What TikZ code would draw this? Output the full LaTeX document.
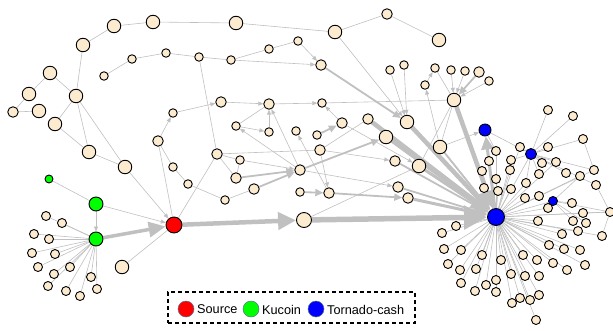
\documentclass[tikz,border=0pt]{standalone}
\usepackage{fontspec}
\setmainfont{Liberation Sans}
\usetikzlibrary{arrows.meta, backgrounds}
\definecolor{cream}{RGB}{253,235,208}
\definecolor{edgegray}{RGB}{192,192,192}
\definecolor{srcred}{RGB}{255,0,0}
\definecolor{kugreen}{RGB}{0,255,0}
\definecolor{tcblue}{RGB}{0,0,255}
\definecolor{rimgray}{RGB}{90,110,140}
\tikzstyle{wallet} = [circle, draw=black, line width=0.9pt, fill=cream, inner sep=0pt, minimum size=8.5pt]
\tikzstyle{walletm} = [wallet, minimum size=10.5pt]
\tikzstyle{walletl} = [wallet, minimum size=13.5pt]
\tikzstyle{source} = [wallet, fill=srcred, minimum size=16pt]
\tikzstyle{kucoin} = [wallet, fill=kugreen, minimum size=14pt]
\tikzstyle{tornado} = [wallet, fill=tcblue, minimum size=12pt]
\tikzstyle{link} = [draw=edgegray, line width=0.6pt]
\tikzstyle{flow} = [link, -{Triangle[length=5pt,width=4pt]}]
\tikzstyle{flowb} = [draw=edgegray, line width=1.8pt, -{Triangle[length=8pt,width=7pt]}]
\tikzstyle{flowc} = [draw=edgegray, line width=3pt, -{Triangle[length=13pt,width=12pt]}]
\tikzstyle{flowd} = [draw=edgegray, line width=4.5pt, -{Triangle[length=18pt,width=17pt]}]
\tikzstyle{flowe} = [draw=edgegray, line width=5.5pt, -{Triangle[length=23pt,width=23pt]}]
\tikzstyle{legendkey} = [circle, draw=rimgray, line width=0.5pt, minimum size=16pt, inner sep=0pt]
\tikzstyle{legendtext} = [anchor=west, inner sep=0pt, font=\fontsize{12.7}{14}\selectfont]

\begin{document}
\begin{tikzpicture}[x=1pt, y=-1pt]
    \useasboundingbox (0,0) rectangle (613,330);

    % outer arc
    \node (t1) [walletl] at (83,45) {};
    \node (t2) [walletl] at (114,26) {};
    \node (t3) [walletl] at (153,22) {};
    \node (t4) [walletl] at (236,23) {};
    \node (t5) [walletl] at (335,32) {};
    \node (t6) [walletm] at (387,14) {};
    \node (t7) [walletl] at (439,40) {};
    \node (l1) [walletl] at (76,96) {};
    \node (l2) [walletl] at (50,73) {};
    \node (l3) [walletl] at (29,94) {};
    \node (l4) [walletm] at (13,112) {};
    \node (l5) [walletl] at (39,111) {};
    \node (l6) [walletl] at (55,124) {};
    \node (l7) [walletl] at (89,152) {};
    \node (l8) [walletl] at (125,167) {};

    % inner arc
    \node (s1) [wallet] at (104,76) {};
    \node (s2) [wallet] at (132,59) {};
    \node (s3) [wallet] at (166,53) {};
    \node (s4) [wallet] at (199,57) {};
    \node (s5) [wallet] at (231,60) {};
    \node (s6) [wallet] at (269,49) {};
    \node (s7) [wallet] at (298,41) {};
    \node (s8) [walletm] at (321,65) {};

    % middle
    \node (m1) [wallet] at (173,113) {};
    \node (m2) [walletm] at (221,102) {};
    \node (m3) [walletm] at (269,104) {};
    \node (m4) [wallet] at (322,103) {};
    \node (m5) [wallet] at (236,126) {};
    \node (m6) [wallet] at (269,132) {};
    \node (m7) [wallet] at (296,131) {};
    \node (m8) [wallet] at (317,135) {};
    \node (m9) [walletm] at (342,123) {};
    \node (m10) [walletm] at (158,141) {};
    \node (m11) [walletm] at (217,154) {};
    \node (m12) [wallet] at (240,160) {};
    \node (m13) [walletm] at (320,150) {};
    \node (m14) [walletm] at (300,170) {};
    \node (m15) [wallet] at (173,167) {};
    \node (m16) [wallet] at (188,184) {};
    \node (m17) [walletm] at (236,178) {};
    \node (m18) [walletm] at (254,189) {};
    \node (m19) [wallet] at (225,200) {};
    \node (m20) [wallet] at (300,192) {};
    \node (m21) [walletm] at (329,193) {};
    \node (m22) [walletl, minimum size=15pt] at (304,220) {};
    \node (w1) [walletl] at (122,267) {};

    % upper right
    \node (u1) [walletm] at (368,119) {};
    \node (u2) [walletl] at (407,122) {};
    \node (u3) [walletl] at (386,137) {};
    \node (u4) [walletl] at (440,147) {};
    \node (u5) [walletm] at (395,161) {};
    \node (u6) [walletl] at (419,166) {};
    \node (u7) [walletm] at (398,187) {};
    \node (u8) [walletm] at (408,198) {};
    \node (u9) [walletl] at (454,100) {};
    \node (u10) [wallet] at (390,70) {};
    \node (u11) [wallet] at (404,65) {};
    \node (u12) [wallet] at (425,85) {};
    \node (u13) [wallet] at (435,68) {};
    \node (u14) [wallet] at (451,70) {};
    \node (u15) [wallet] at (465,71) {};
    \node (u16) [walletm] at (479,72) {};
    \node (u17) [wallet] at (489,81) {};

    % labelled wallets
    \node (red) [source] at (174,225) {};
    \node (g0) [kucoin, minimum size=8pt] at (49,179) {};
    \node (g1) [kucoin] at (96,204) {};
    \node (g2) [kucoin] at (96,239) {};
    \node (b0) [tornado, minimum size=17pt] at (496,217) {};
    \node (b1) [tornado] at (485,130) {};
    \node (b2) [tornado, minimum size=11pt] at (531,154) {};
    \node (b3) [tornado, minimum size=9pt] at (553,201) {};

    % kucoin fan
    \foreach \x/\y [count=\i] in {46/216, 62/223, 34/234, 49/239, 32/253, 55/254, 38/267, 70/267,
        54/274, 91/277, 48/286, 66/291, 97/289, 80/296}
        \node (k\i) [wallet, minimum size=9pt] at (\x,\y) {};

    % tornado fan
    \foreach \x/\y [count=\i] in {548/110, 573/116, 583/139, 520/147, 548/147, 496/151, 489/161, 511/160,
        542/163, 556/162, 594/170, 482/171, 510/170, 539/174, 566/173, 580/176, 596/185, 496/179,
        526/183, 484/188, 498/191, 511/189, 525/198, 539/196, 548/208, 572/203, 610/212, 583/213,
        538/221, 573/221, 586/223, 578/231, 562/234, 602/236, 456/226, 442/233, 444/249, 461/250,
        549/245, 564/249, 580/250, 482/255, 523/255, 448/264, 460/270, 476/269, 501/260, 537/260,
        553/263, 585/265, 567/270, 511/274, 525/276, 539/276, 461/283, 475/291, 486/285, 496/280,
        496/292, 520/298, 530/300, 539/295, 512/303, 536/320}
        \node (r\i) [wallet, minimum size=9pt] at (\x,\y) {};

    \begin{scope}[on background layer]
    \draw [link] (t1) -- (t2);
    \draw [link] (t2) -- (t3);
    \draw [link] (t3) -- (t4);
    \draw [link] (t4) -- (t5);
    \draw [link] (t5) -- (t6);
    \draw [link] (t6) -- (t7);
    \draw [link] (t1) -- (l1);
    \draw [link] (l1) -- (l2);
    \draw [link] (l2) -- (l3);
    \draw [link] (l3) -- (l4);
    \draw [link] (l4) -- (l5);
    \draw [link] (l1) -- (l6);
    \draw [link] (l6) -- (l7);
    \draw [link] (l1) -- (l7);
    \draw [link] (l1) -- (l8);
    \draw [link] (l7) -- (l8);
    \draw [flow] (l8) -- (red);
    \draw [flow] (t5) -- (u2);

    \draw [link] (s1) -- (s2);
    \draw [link] (s2) -- (s3);
    \draw [link] (s3) -- (s4);
    \draw [link] (s4) -- (s5);
    \draw [link] (s5) -- (s6);
    \draw [link] (s6) -- (s7);
    \draw [flow] (s5) -- (s8);
    \draw [flow] (s7) -- (s8);
    \draw [link] (s4) -- (m11);
    \draw [flowb] (s8) -- (u2);

    \draw [flow] (m10) -- (m1);
    \draw [flow] (m1) -- (m2);
    \draw [flow] (m2) -- (m3);
    \draw [flow] (m3) -- (m4);
    \draw [flow] (m9) -- (m4);
    \draw [flowb] (m8) -- (m9);
    \draw [link] (m5) -- (m3);
    \draw [flow] (m5) -- (m6);
    \draw [flow] (m6) -- (m3);
    \draw [flow] (m14) -- (m5);
    \draw [flow] (m14) -- (m3);
    \draw [flow] (m21) -- (m7);
    \draw [flow] (m13) -- (m21);
    \draw [link] (m4) -- (u9);
    \draw [link] (m10) -- (red);
    \draw [link] (m10) -- (m15);
    \draw [link] (m11) -- (m12);
    \draw [link] (m11) -- (m17);
    \draw [link] (m11) -- (m13);
    \draw [link] (m11) -- (red);
    \draw [flow] (m12) -- (m14);
    \draw [link] (m12) -- (m17);
    \draw [flowb] (m17) -- (m14);
    \draw [flowb] (m18) -- (m14);
    \draw [link] (m19) -- (m18);
    \draw [link] (m16) -- (m19);
    \draw [link] (m15) -- (m16);
    \draw [flowb] (m14) -- (u3);
    \draw [flowb] (m20) -- (m21);
    \draw [flowb] (m21) -- (u8);
    \draw [flow] (m13) -- (u5);
    \draw [flow] (m14) -- (u7);
    \draw [link] (m13) -- (u1);
    \draw [flow] (m9) -- (u6);
    \draw [link] (m22) -- (u6);
    \draw [link] (w1) -- (red);

    \draw [link] (g0) -- (g1);
    \draw [flow] (g1) -- (g2);
    \draw [flow] (g1) -- (red);
    \draw [flowc, line width=3.5pt, -{Triangle[length=17pt,width=15pt]}] (g2) -- (red);
    \draw [flowd] (red) -- (m22);
    \draw [flowe] (m22) -- (b0);
    \foreach \i in {1,...,14}
        \draw [link] (g2) -- (k\i);

    \draw [flow] (u10) -- (u2);
    \draw [flow] (u11) -- (u2);
    \draw [flow] (u12) -- (u13);
    \draw [flow] (u4) -- (u12);
    \draw [flow] (u14) -- (u9);
    \draw [flow] (u15) -- (u9);
    \draw [flowb] (u16) -- (u9);
    \draw [flow] (u17) -- (u9);
    \draw [link] (u13) -- (u9);
    \draw [link] (u9) -- (u4);
    \draw [link] (u9) -- (u6);
    \draw [flow] (u4) -- (b1);
    \draw [flowd] (u9) -- (b0);
    \draw [flowd] (u1) -- (b0);
    \draw [flowd] (u2) -- (b0);
    \draw [flowc] (u3) -- (b0);
    \draw [flowb] (u4) -- (b0);
    \draw [flowb] (u5) -- (b0);
    \draw [flowc] (u6) -- (b0);
    \draw [flowb] (u7) -- (b0);
    \draw [flowc] (u8) -- (b0);
    \draw [flowc] (b0) -- (b1);
    \draw [link] (b1) -- (b2);
    \draw [link] (b0) -- (b2);
    \draw [link] (b0) -- (b3);

    \foreach \i in {4,6,7,8,10,11,12,13,16,18,19,20,21,22,23,24,25,27,28,29,32,33,34,35,36,37,38,39,40,
        41,42,43,44,45,46,47,48,49,50,51,52,53,54,55,56,57,58,59,60,61,62,63,64}
        \draw [link] (b0) -- (r\i);
    \foreach \i in {1,2,3,4,5,8,9,10,11,14,15,17,19}
        \draw [link] (b2) -- (r\i);
    \foreach \i in {16,26,27,30,31}
        \draw [link] (b3) -- (r\i);
    \draw [link] (b1) -- (r6);
    \draw [link] (r3) -- (r11);
    \draw [link] (r17) -- (r27);
    \draw [link] (r28) -- (r27);
    \draw [link] (r34) -- (r27);
    \end{scope}

    % legend
    \node (legbox) [draw=black, line width=1.2pt, dash pattern=on 4pt off 3pt, minimum width=247pt, minimum height=31pt] at (291.5,307.5) {};
    \node (keysrc) [legendkey, fill=srcred] at (186,309) {};
    \node (labsrc) [legendtext] at (197,309.5) {Source};
    \node (keyku) [legendkey, fill=kugreen] at (251,309) {};
    \node (labku) [legendtext] at (262,309.5) {Kucoin};
    \node (keytc) [legendkey, fill=tcblue] at (316,309) {};
    \node (labtc) [legendtext] at (327,309.5) {Tornado-cash};

\end{tikzpicture}
\end{document}
